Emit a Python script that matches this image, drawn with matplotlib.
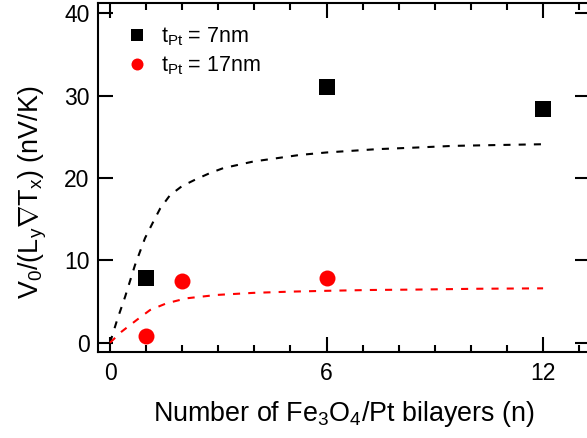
"""
Thermal voltage vs number of Fe3O4/Pt bilayers
"""

#---------------------------------------------------------------------------------------------------
# Import Modules
#---------------------------------------------------------------------------------------------------

import matplotlib
matplotlib.use('Agg')
import matplotlib.pyplot as plt
import matplotlib.ticker as mticker


#---------------------------------------------------------------------------------------------------
# Input Parameters
#---------------------------------------------------------------------------------------------------

# Measured points
n_7nm = [1, 6, 12]
v_7nm = [7.8, 31.0, 28.4]
n_17nm = [1, 2, 6]
v_17nm = [0.8, 7.5, 7.9]

# Dashed fit curves
n_fit_7nm = [0, 0.2, 0.42, 0.69, 0.97, 1.2, 1.39, 1.66, 1.99, 2.36, 2.77, 3.14, 3.97, 5.26, 6.0, 7.39, 8.5, 9.51, 10.7, 12.0]
v_fit_7nm = [0, 2.8, 5.6, 9.4, 12.7, 14.7, 16.3, 17.9, 19.0, 19.8, 20.6, 21.2, 22.0, 22.8, 23.1, 23.5, 23.7, 23.9, 24.0, 24.1]
n_fit_17nm = [0, 0.32, 0.74, 1.11, 1.57, 2.12, 2.96, 3.97, 5.0, 6.0, 7.2, 8.49, 10.2, 12.0]
v_fit_17nm = [0, 1.34, 2.76, 3.97, 4.79, 5.39, 5.8, 6.05, 6.2, 6.3, 6.4, 6.45, 6.55, 6.6]

labels = [r't$_{\mathregular{Pt}}$ = 7nm', r't$_{\mathregular{Pt}}$ = 17nm']
xlabel = r'Number of Fe$_{\mathregular{3}}$O$_{\mathregular{4}}$/Pt bilayers (n)'
ylabel = r'V$_{\mathregular{0}}$/(L$_{\mathregular{y}}$$\nabla$T$_{\mathregular{x}}$) (nV/K)'

out_fname = 'out.png'


#---------------------------------------------------------------------------------------------------
# Main Program
#---------------------------------------------------------------------------------------------------

plt.rcParams['font.family'] = ['Liberation Sans', 'DejaVu Sans']
plt.rcParams['mathtext.fontset'] = 'custom'
plt.rcParams['mathtext.rm'] = 'Liberation Sans'
plt.rcParams['mathtext.it'] = 'Liberation Sans'
plt.rcParams['mathtext.bf'] = 'Liberation Sans'

fig = plt.figure(figsize=(5.87, 4.38), dpi=100)
ax = fig.add_axes([98/587, 86/438, 492/587, 349/438])

# Fit curves
ax.plot(n_fit_7nm, v_fit_7nm, color='k', lw=1.5, dashes=(3.4, 3.9))
ax.plot(n_fit_17nm, v_fit_17nm, color='#ff0000', lw=1.5, dashes=(3.4, 3.9))

# Data
ax.plot(n_7nm, v_7nm, ls='none', marker='s', ms=11.3, mew=0, color='k', label=labels[0])
ax.plot(n_17nm, v_17nm, ls='none', marker='o', ms=11.5, mew=0, color='#ff0000', label=labels[1])

# Limits and ticks
ax.set_xlim(-0.333, 13.3)
ax.set_ylim(-1.13, 41.25)
ax.set_xticks([0, 6, 12])
ax.xaxis.set_minor_locator(mticker.MultipleLocator(1))
ax.set_yticks([0, 10, 20, 30, 40])
ax.tick_params(which='both', direction='in', top=True, right=True, width=1.5, labelsize=16.5)
ax.tick_params(which='major', length=10.8)
ax.tick_params(which='minor', length=5)
ax.tick_params(axis='x', pad=7)
ax.tick_params(axis='y', pad=6)
for sp in ax.spines.values():
    sp.set_linewidth(1.5)

ax.set_xlabel(xlabel, size=19.4, labelpad=10)
ax.set_ylabel(ylabel, size=19.4)
ax.yaxis.set_label_coords(-0.1, 0.458)

ax.legend(loc='upper left', bbox_to_anchor=(0.027, 0.98), frameon=False, fontsize=15.5, markerscale=0.75,
          handlelength=1.0, handletextpad=0.6, labelspacing=0.3, borderaxespad=0.3)

plt.savefig(out_fname, dpi=100)
plt.close()
